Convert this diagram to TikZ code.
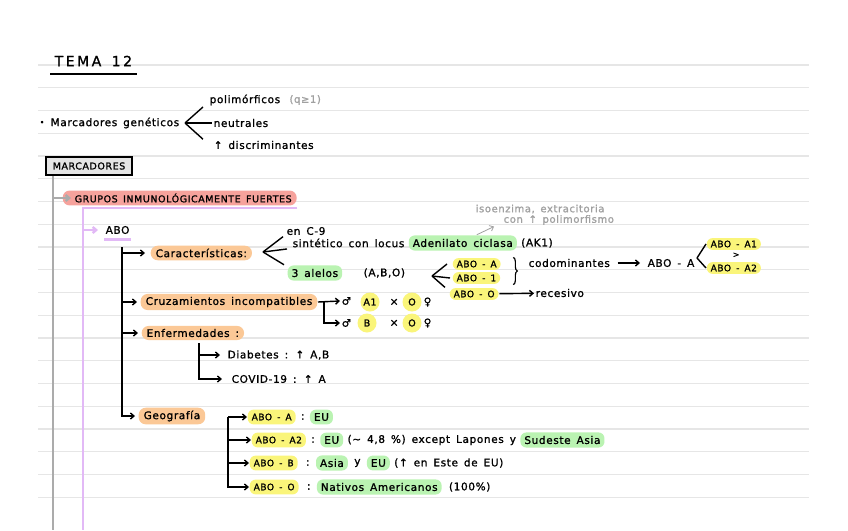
\documentclass[tikz,border=0pt]{standalone}
\usepackage{fontspec}
\setmainfont{DejaVu Sans}[LetterSpace=6, WordSpace=1.5, FakeBold=1.2]
\usetikzlibrary{arrows.meta, positioning, calc, decorations.pathreplacing}
\definecolor{ruling}{HTML}{E6E6E6}
\definecolor{salmon}{HTML}{F6A29C}
\definecolor{peach}{HTML}{FBC896}
\definecolor{lemon}{HTML}{FAF57A}
\definecolor{mint}{HTML}{BAF3B2}
\definecolor{lilac}{HTML}{E2B9F6}
\definecolor{pencil}{HTML}{A0A0A0}
\definecolor{stone}{HTML}{ABABAB}

\begin{document}
\begin{tikzpicture}[x=1pt, y=-1pt, >={Straight Barb[length=3.5pt, width=6pt]},
      line width=1.4pt,
      txt/.style={anchor=west, inner sep=1pt, font=\fontsize{10.5}{12}\selectfont},
      abotxt/.style={txt, font=\fontsize{9}{10}\selectfont},
      grp/.style={txt, fill=salmon, rounded corners=7pt, inner xsep=5pt, inner ysep=3pt},
      topic/.style={txt, fill=peach, rounded corners=7pt, inner xsep=5pt, inner ysep=3pt},
      allele/.style={abotxt, fill=lemon, rounded corners=6pt, inner xsep=4pt, inner ysep=2.5pt},
      place/.style={txt, fill=mint, rounded corners=6pt, inner xsep=4pt, inner ysep=3.5pt},
      ring/.style={circle, fill=lemon, inner sep=0pt, minimum size=19pt,
                   font=\fontsize{9.5}{10}\selectfont},
      note/.style={txt, text=pencil, font=\fontsize{10}{11}\selectfont},
      trunk/.style={draw=stone, line width=2.4pt},
      branch/.style={draw=lilac, line width=2.4pt}]
  \fill[white] (0,0) rectangle (848,530);
  \useasboundingbox (0,0) rectangle (848,530);
  % ruled page
  \foreach \k in {0,...,19}
    \draw[ruling, line width=1.3pt] (38,{65+22.75*\k}) -- (809,{65+22.75*\k});

  \node[txt, font=\fontsize{14}{16}\selectfont\addfontfeatures{LetterSpace=18}] (tema) at (53,61) {TEMA 12};
  \draw[line width=1.6pt] ([yshift=-6pt,xshift=-3pt]tema.south west) -- ([yshift=-6pt,xshift=3pt]tema.south east);

  \node[txt, font=\fontsize{8}{9}\selectfont] (dot) at (38,123) {•};
  \node[txt] (mgen) at (49,123) {Marcadores genéticos};
  \coordinate (mtip) at (185,123);
  \node[txt] (poli) at (208,100) {polimórficos};
  \node[note, right=6pt of poli] (qnote) {(q≥1)};
  \node[txt] (neut) at (212,123) {neutrales};
  \node[txt] (disc) at (212,145) {↑ discriminantes};
  \draw (mtip) -- ([xshift=-5pt]poli.south west);
  \draw (mtip) -- (neut.west);
  \draw (mtip) -- ([xshift=-9pt]disc.north west);

  \node[draw, line width=1.8pt, fill=black!10, minimum width=86pt, minimum height=18pt,
        inner sep=0pt, font=\fontsize{9.5}{10}\selectfont] (marc) at (89,166) {MARCADORES};
  \coordinate (gend) at (53,530);
  \draw[trunk] (marc.south -| gend) -- (gend);
  \node[grp, font=\fontsize{9.5}{11}\selectfont] (grupos) at (62,198) {\hspace{7pt}GRUPOS INMUNOLÓGICAMENTE FUERTES};
  \draw[trunk, ->] (gend |- grupos.west) -- ([xshift=9pt]grupos.west);

  \coordinate (pend) at (83,530);
  \draw[branch] ([yshift=-2pt]grupos.south east) -| (pend);
  \node[txt] (abo) at (104,230) {ABO};
  \draw[branch, ->] (pend |- abo.west) -- ([xshift=-6pt]abo.west);
  \draw[branch] ([yshift=-4pt]abo.south west) -- ([yshift=-4pt]abo.south east);

  \coordinate (stem) at (122,247);
  \node[topic] (carac) at (150,253) {Características:};
  \draw[->] (stem) |- ([xshift=-5pt]carac.west);

  \coordinate (ctip) at (263,252);
  \node[txt] (enc9) at (285,231) {en C-9};
  \node[txt] (sint) at (291,243) {sintético con locus};
  \node[place, right=2pt of sint] (aden) {Adenilato ciclasa};
  \node[txt, right=2pt of aden] (ak1) {(AK1)};
  \node[place] (alelos) at (287,273) {3 alelos};
  \node[txt] (abc) at (362,273) {(A,B,O)};
  \draw (ctip) -- ([xshift=-2pt]enc9.south west);
  \draw (ctip) -- ([xshift=-4pt]sint.south west);
  \draw (ctip) -- ([xshift=-3pt]alelos.north west);

  \node[note] (isoen) at (474,209) {isoenzima, extracitoria};
  \node[note] (conpol) at (502,220) {con ↑ polimorfismo};
  \draw[pencil, line width=0.8pt, ->] ([xshift=14pt]aden.north) -- ([xshift=-8pt]conpol.south west);

  \coordinate (atip) at (432,276);
  \node[allele] (aboa) at (452,264) {ABO - A};
  \node[allele] (abo1) at (452,278) {ABO - 1};
  \node[allele] (aboo) at (449,294) {ABO - O};
  \draw (atip) -- ([xshift=-5pt]aboa.west);
  \draw (atip) -- ([xshift=-2pt]abo1.west);
  \draw (atip) -- ([xshift=-4pt]aboo.north west);
  \draw[decorate, decoration={brace, amplitude=4pt}, line width=1.2pt]
    ($(aboa.north east)+(12,0)$) -- ($(aboa.east |- abo1.south)+(12,0)$);

  \node[txt] (codom) at (527,263) {codominantes};
  \node[txt] (aboA) at (646,263) {ABO - A};
  \draw[->, shorten <=6pt, shorten >=6pt] (codom) -- (aboA);
  \coordinate (a1tip) at (697,258);
  \node[allele] (aboa1) at (706,244) {ABO - A1};
  \node[allele] (aboa2) at (706,268) {ABO - A2};
  \node[txt, font=\fontsize{8}{9}\selectfont] (gt) at (731,255) {>};
  \draw (a1tip) -- (aboa1.west);
  \draw (a1tip) -- (aboa2.west);

  \node[txt] (reces) at (534,293) {recesivo};
  \draw[->] (aboo) -- (reces);

  \node[topic] (cruz) at (140,302) {Cruzamientos incompatibles};
  \draw[->] (stem) |- ([xshift=-3pt]cruz.west);
  \coordinate (xbr) at ($(cruz.east)+(6,0)$);
  \node[txt] (male1) at (340,301) {♂};
  \node[ring] (ca1) at (370,302) {A1};
  \node[txt] (x1) at (388,302) {×};
  \node[ring] (co1) at (412,302) {O};
  \node[txt] (fem1) at (422,302) {♀};
  \node[txt] (male2) at (340,323) {♂};
  \node[ring] (cb) at (367,323) {B};
  \node[txt] (x2) at (388,323) {×};
  \node[ring] (co2) at (412,323) {O};
  \node[txt] (fem2) at (422,323) {♀};
  \draw[->] (cruz.east) -- (male1.west);
  \draw[->] (xbr) |- (male2.west);

  \node[topic] (enf) at (141,333) {Enfermedades :};
  \draw[->] (stem) |- ([xshift=-3pt]enf.west);
  \coordinate (ebr) at (199,343);
  \node[txt] (diab) at (226,355) {Diabetes : ↑ A,B};
  \node[txt] (covid) at (230,379) {COVID-19 : ↑ A};
  \draw[->] (ebr) |- ([xshift=-6pt]diab.west);
  \draw[->] (ebr) |- ([xshift=-8pt]covid.west);

  \node[topic] (geo) at (138,416) {Geografía};
  \draw[->] (stem) |- ([xshift=-3pt]geo.west);
  \coordinate (gbr) at (228,417);
  \node[allele, inner ysep=4pt] (g1) at (247,417) {ABO - A};
  \node[txt, right=3pt of g1] (g1c) {:};
  \node[place, right=3pt of g1c] (g1eu) {EU};
  \node[allele, inner ysep=4pt] (g2) at (251,440) {ABO - A2};
  \node[txt, right=3pt of g2] (g2c) {:};
  \node[place, right=3pt of g2c] (g2eu) {EU};
  \node[txt, right=2pt of g2eu] (g2txt) {(∼ 4,8 \%) except Lapones y};
  \node[place, right=2pt of g2txt] (g2sea) {Sudeste Asia};
  \node[allele, inner ysep=4pt] (g3) at (249,463) {ABO - B};
  \node[txt, right=6pt of g3] (g3c) {:};
  \node[place, right=4pt of g3c] (g3as) {Asia};
  \node[txt, right=4pt of g3as] (g3y) {y};
  \node[place, right=4pt of g3y] (g3eu) {EU};
  \node[txt, right=2pt of g3eu] (g3txt) {(↑ en Este de EU)};
  \node[allele, inner ysep=4pt] (g4) at (249,487) {ABO - O};
  \node[txt, right=6pt of g4] (g4c) {:};
  \node[place, right=4pt of g4c] (g4na) {Nativos Americanos};
  \node[txt, right=5pt of g4na] (g4txt) {(100\%)};
  \draw[->] (gbr) |- (g1.west);
  \draw[->] (gbr) |- (g2.west);
  \draw[->] (gbr) |- (g3.west);
  \draw[->] (gbr) |- (g4.west);
\end{tikzpicture}
\end{document}
